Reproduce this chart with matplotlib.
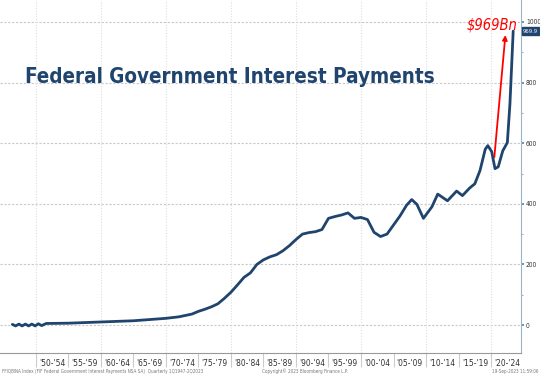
import matplotlib
matplotlib.use("Agg")
import matplotlib.pyplot as plt
import numpy as np

# quarterly interest payments, $bn
years = [1946.4, 1946.9, 1947.4, 1947.9, 1948.4, 1948.9, 1949.4, 1949.9, 1950.4, 1950.9,
         1951.6, 1955.0, 1960.0, 1965.0, 1970.0, 1972.0, 1974.0, 1975.0, 1976.0, 1977.0,
         1978.0, 1979.0, 1980.0, 1981.0, 1982.0, 1983.0, 1984.0, 1985.0, 1986.0, 1987.0,
         1988.0, 1989.0, 1990.0, 1991.0, 1992.0, 1993.0, 1994.0, 1995.0, 1996.0, 1997.0,
         1998.0, 1999.0, 2000.0, 2001.0, 2002.0, 2003.0, 2004.0, 2005.0, 2006.0, 2007.0,
         2007.8, 2008.6, 2009.6, 2010.9, 2011.8, 2013.3, 2014.7, 2015.6, 2016.7, 2017.5,
         2018.3, 2019.1, 2019.5, 2020.1, 2020.6, 2021.1, 2021.8, 2022.5, 2022.9, 2023.4]
values = [2, -3, 3, -3, 3, -3, 3, -3, 4, -2,
          5, 6, 10, 14, 22, 27, 36, 45, 52, 60,
          70, 88, 108, 132, 157, 172, 200, 215, 225, 232,
          245, 262, 282, 300, 305, 308, 315, 352, 358, 363,
          370, 352, 355, 348, 306, 292, 300, 330, 360, 395,
          414, 398, 352, 390, 432, 410, 442, 427, 452, 466,
          510, 580, 592, 572, 516, 522, 575, 602, 730, 970]

last_value = 969.9
xlabels = ["'50-'54", "'55-'59", "'60-'64", "'65-'69", "'70-'74", "'75-'79", "'80-'84",
           "'85-'89", "'90-'94", "'95-'99", "'00-'04", "'05-'09", "'10-'14", "'15-'19", "'20-'24"]
yticks = [0, 200, 400, 600, 800, 1000]

navy = '#1f446e'
fam = ['DejaVu Sans']

fig = plt.figure(figsize=(5.4, 3.77), dpi=100)
ax = fig.add_axes([0, 24 / 377, 521 / 540, 353 / 377])
ax.set_xlim(1944.5, 2024.6)
ax.set_ylim(-92.4, 1072.6)

# grid
for yy in yticks:
    ax.axhline(yy, color='#c8c8c8', lw=0.8, ls=(0, (2, 1.5)), zorder=0)
for xx in range(1950, 2021, 10):
    ax.axvline(xx, color='#dddddd', lw=0.8, ls=(0, (1, 1.5)), zorder=0)

ax.plot(years, values, color=navy, lw=2.0, solid_capstyle='round', zorder=3)

# spines
for s in ['left', 'top']:
    ax.spines[s].set_visible(False)
ax.spines['right'].set_color('#9fb3c8')
ax.spines['bottom'].set_color('#999999')

# x axis: separators every 5 years, labels in the middle
starts = [1950 + 5 * i for i in range(len(xlabels))]
ax.set_xticks(starts)
ax.set_xticklabels([])
ax.tick_params(axis='x', which='major', length=10, color='#cccccc', width=0.8)
ax.set_xticks([s + 2.5 for s in starts], minor=True)
ax.set_xticklabels(xlabels, minor=True, fontsize=6, color='#333333',
                   family=fam, fontstretch='condensed')
ax.tick_params(axis='x', which='minor', length=0, pad=4)

# y axis on right
ax.yaxis.tick_right()
ax.set_yticks(yticks)
ax.set_yticklabels([str(v) for v in yticks], fontsize=4.8, color='#333333',
                   family=fam, fontstretch='condensed')
ax.set_yticks(range(0, 1001, 100), minor=True)
ax.tick_params(axis='y', which='major', length=2.5, width=1.2, color='#5a7fa8', pad=1)
ax.tick_params(axis='y', which='minor', length=1.5, width=0.8, color='#9fb3c8')

# last value badge
ax.annotate(f"{last_value:.1f}", xy=(1.0, last_value), xycoords=('axes fraction', 'data'),
            xytext=(1.5, 0), textcoords='offset points', ha='left', va='center',
            fontsize=4.2, color='white', family=fam, fontstretch='condensed',
            bbox=dict(boxstyle='square,pad=0.2', fc=navy, ec=navy))

# red arrow + label
ax.annotate('', xy=(2022.2, 957), xytext=(2020.5, 554),
            arrowprops=dict(arrowstyle='-|>', color='red', lw=1.3,
                            mutation_scale=7, shrinkA=0, shrinkB=0), zorder=4)

renderer = fig.canvas.get_renderer()


def fit_text(t, target_w):
    ext = t.get_window_extent(renderer=renderer)
    t.set_fontsize(t.get_fontsize() * target_w / ext.width)


title = fig.text(25 / 540, 1 - 83 / 377, 'Federal Government Interest Payments',
                 fontsize=24, fontweight='bold', color=navy, ha='left', va='baseline',
                 family=fam, fontstretch='condensed', zorder=5)
fit_text(title, 410)

lab = fig.text(467 / 540, 1 - 30 / 377, '$969Bn', fontsize=16, style='italic',
               color='red', ha='left', va='baseline', family=fam, fontstretch='condensed')
fit_text(lab, 51)

# footer
foot = dict(fontsize=3.3, color='#777777', va='center', family=fam, fontstretch='condensed')
fig.text(2 / 540, 1 - 371 / 377,
         'FFIQBINA Index (FIF Federal Government Interest Payments NSA SA)  Quarterly 1Q1947-2Q2023',
         ha='left', **foot)
fig.text(305 / 540, 1 - 371 / 377, 'Copyright\u00a9 2023 Bloomberg Finance L.P.', ha='center', **foot)
fig.text(539 / 540, 1 - 371 / 377, '19-Sep-2023 11:59:06', ha='right', **foot)

fig.savefig('out.png', dpi=100)
